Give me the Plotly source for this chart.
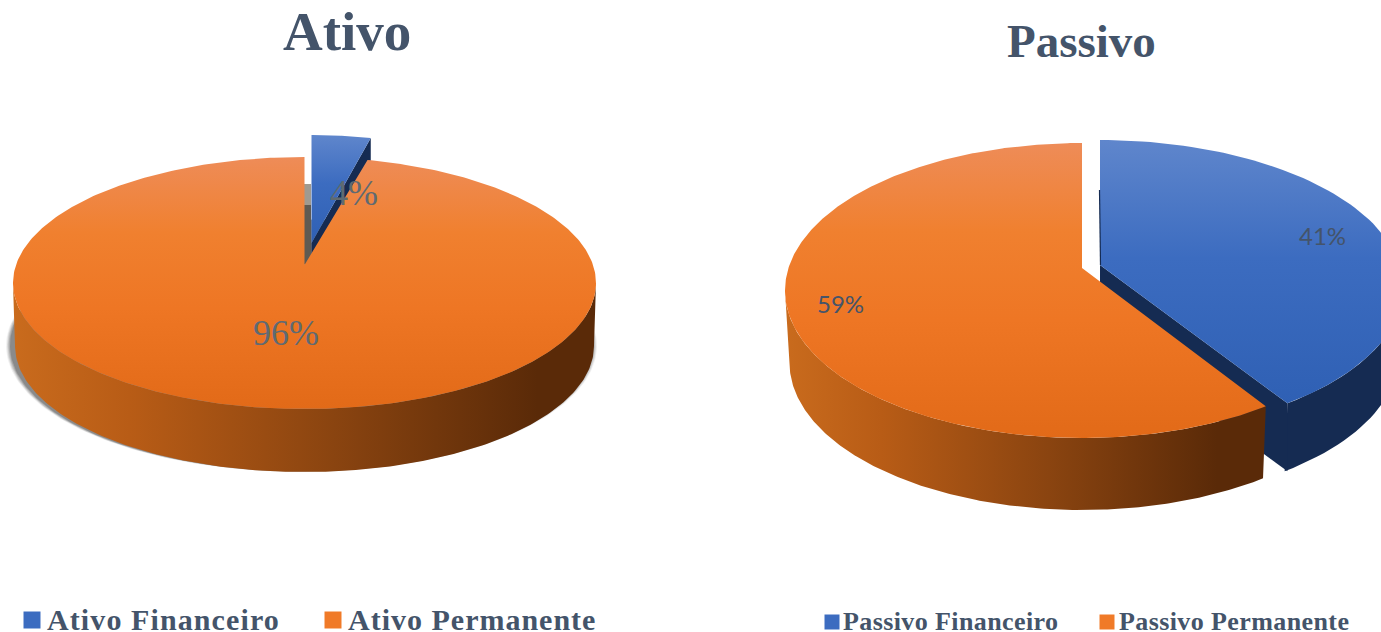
import numpy as np
import plotly.graph_objects as go

ativo_categories = ["Ativo Financeiro", "Ativo Permanente"]
ativo_shares = [4, 96]
passivo_categories = ["Passivo Financeiro", "Passivo Permanente"]
passivo_shares = [41, 59]

SLATE = "#44546a"
ORANGE_TOP = [[0, "#ee8c58"], [0.3, "#f0802f"], [0.6, "#ee7624"], [1, "#e26a18"]]
BLUE_TOP = [[0, "#5f86cc"], [0.45, "#3c6cc0"], [1, "#2f60b4"]]
WALL = [[0, "#c96b1d"], [0.2, "#b85c16"], [0.55, "#8a4410"], [0.9, "#5a2a08"], [1, "#5a2a08"]]
NAVY = "#152b52"


def homography(top, bottom, apex, half_width):
    c = abs((2 * apex - bottom - top) / (top - bottom))
    a = apex - bottom + bottom * c
    return dict(a=a, b=apex, c=c, d=half_width * np.sqrt(1 - c * c))


def project(theta_deg, g, cx):
    t = np.radians(theta_deg)
    u, v = np.sin(t), np.cos(t)
    den = 1 + g["c"] * v
    return cx + g["d"] * u / den, (g["b"] + g["a"] * v) / den


def add_poly(fig, x, y, name, color=None, grad=None, orient="vertical", start=None, stop=None):
    kw = dict(x=x, y=y, mode="lines", fill="toself", line=dict(width=0),
              name=name, hoverinfo="name", showlegend=False)
    if grad is not None:
        kw["fillgradient"] = dict(type=orient, colorscale=grad, start=start, stop=stop)
    else:
        kw["fillcolor"] = color
    fig.add_trace(go.Scatter(**kw))


def draw_pie(fig, names, shares, cx, top, bottom, apex, half_w, depth, blue_depth, inset, off, sx,
             wall_right, turn):
    g = homography(top, bottom, apex, half_w)
    cut = shares[0] * 3.6 + turn
    th_blue = np.linspace(0, cut, 80)
    th_or = np.linspace(cut, 360, 400)
    widest = np.degrees(np.arccos(-g["c"]))  # angle of the rim's widest point

    bx, by = project(th_blue, g, cx)
    bx = cx + (bx - cx) * sx + off[0]
    by = by + off[1]
    ax, ay = cx + off[0], apex + off[1]
    wt = th_blue >= widest
    if wt.sum() > 1:
        wx = np.concatenate([bx[wt], (cx + off[0] + (bx[wt] - cx - off[0]) * inset)[::-1]])
        wy = np.concatenate([by[wt], (by[wt] + blue_depth)[::-1]])
        add_poly(fig, wx, wy, names[0] + " lateral", color=NAVY)
    add_poly(fig, [ax, bx[-1], bx[-1], ax], [ay, by[-1], by[-1] + blue_depth, ay + blue_depth],
             names[0] + " corte", color=NAVY)
    add_poly(fig, np.r_[ax, bx, ax], np.r_[ay, by, ay], names[0], grad=BLUE_TOP,
             start=top + off[1], stop=max(by.max(), ay))

    front = (th_or >= widest) & (th_or <= 360 - widest)
    ox, oy = project(th_or[front], g, cx)
    lx = cx + (ox - cx) * inset
    ly = oy + depth
    add_poly(fig, np.r_[ox, lx[::-1]], np.r_[oy, ly[::-1]], names[1] + " lateral", grad=WALL,
             orient="horizontal", start=cx - half_w, stop=wall_right)
    tx, ty = project(th_or, g, cx)
    add_poly(fig, np.r_[cx, tx, cx], np.r_[apex, ty, apex], names[1], grad=ORANGE_TOP,
             start=top, stop=bottom)
    return g


fig = go.Figure()

# soft shadow beneath the Ativo disc: the lower rim, slightly grown and shifted left
ga = homography(157, 409, 265, 291.5)
th = np.linspace(0, 360, 300)
sx0, sy0 = project(th, ga, 304.5)
for grow, alpha in [(6, 0.08), (5, 0.12), (4, 0.16), (3, 0.2), (2, 0.26)]:
    k = 1 + grow / 290
    add_poly(fig, 304.5 + (sx0 - 304.5) * 0.993 * k - 3, 346 + (sy0 - 283) - 1 + grow * 0.15,
             "sombra", color=f"rgba(60,60,60,{alpha})")

# dark inner face behind the lifted Ativo wedge
add_poly(fig, [304, 311, 311, 304], [205, 205, 264, 264], "face", color="#5f5a52")
add_poly(fig, [304, 311, 311, 304], [184, 184, 205, 205], "face clara", color="#a09a90")

draw_pie(fig, ativo_categories, ativo_shares, 304.5, 157, 409, 265, 291.5, 63, 63, 0.993,
         (7, -22), 0.94, 596, 0)
draw_pie(fig, passivo_categories, passivo_shares, 1082, 143, 438, 268, 297, 72, 68, 0.985,
         (18, -3), 1.02, 1265, -0.7)

# thin dark edge on the lifted Passivo slice
fig.add_trace(go.Scatter(x=[1099.5, 1100.5], y=[190, 265], mode="lines", showlegend=False,
                         hoverinfo="skip", line=dict(color=NAVY, width=1.2)))

# legend squares
sq_x = [32, 333, 832, 1107]
sq_y = [620, 620, 622, 622]
sq_c = ["#3c6cc0", "#f07a28", "#3c6cc0", "#f07a28"]
sq_s = [17, 17, 15, 15]
sq_names = ativo_categories + passivo_categories
fig.add_trace(go.Scatter(x=sq_x, y=sq_y, mode="markers", showlegend=False, hovertext=sq_names,
                         hoverinfo="text",
                         marker=dict(symbol="square", size=sq_s, color=sq_c, opacity=1, line=dict(width=0))))

SERIF = "Liberation Serif"
def note(x, y, text, size, font=SERIF, bold=False, anchor="center", color=SLATE, spacing=None):
    t = f"<b>{text}</b>" if bold else text
    if spacing:
        t = f'<span style="letter-spacing:{spacing}px">{t}</span>'
    fig.add_annotation(x=x, y=y, text=t, showarrow=False, xanchor=anchor, yanchor="middle",
                       font=dict(family=font, size=size, color=color))

note(347, 31, "Ativo", 55, bold=True)
note(1081, 41, "Passivo", 47, bold=True)
note(286, 333, f"{ativo_shares[1]}%", 36, color="#5f6a72")
note(354, 193, f"{ativo_shares[0]}%", 36, color="#5f6a72")
note(1322, 235, f"{passivo_shares[0]}%", 24, font="Lato")
note(840, 303, f"{passivo_shares[1]}%", 24, font="Lato")
note(45, 619, ativo_categories[0], 30, bold=True, anchor="left", spacing=1.1)
note(346, 619, ativo_categories[1], 30, bold=True, anchor="left", spacing=1.0)
note(841, 621, passivo_categories[0], 26, bold=True, anchor="left", spacing=0.4)
note(1117, 621, passivo_categories[1], 26, bold=True, anchor="left", spacing=0.4)

fig.update_layout(
    width=1381, height=632, margin=dict(l=0, r=0, t=0, b=0),
    paper_bgcolor="white", plot_bgcolor="white", showlegend=False,
    xaxis=dict(range=[0, 1381], visible=False, fixedrange=True),
    yaxis=dict(range=[632, 0], visible=False, fixedrange=True),
)
fig.write_html("out.html", config={"displayModeBar": False},
               post_script="document.body.style.margin='0';document.documentElement.style.overflow='hidden';")
